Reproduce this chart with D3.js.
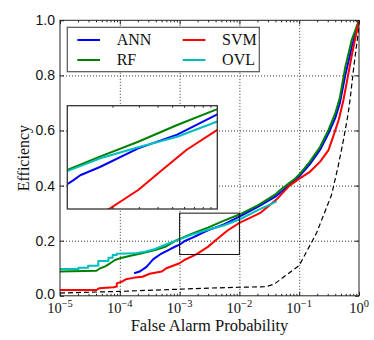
<!DOCTYPE html>
<html lang="en">
<head>
<meta charset="UTF-8">
<title>Efficiency vs False Alarm Probability</title>
<script src="https://d3js.org/d3.v7.min.js"></script>
<style>
  body { margin: 0; background: #fff; }
  svg { font-family: "Liberation Serif", "Times New Roman", serif; }
  .grid line { stroke: #333; stroke-dasharray: 1,2; }
  .grid path, .ax path { display: none; }
  .ax line { stroke: #222; }
</style>
</head>
<body>
<div id="chart"></div>
<script>
// tick labels
const xTicks = [1e-5, 1e-4, 1e-3, 1e-2, 1e-1, 1];
const yTicks = [0, 0.2, 0.4, 0.6, 0.8, 1.0];
const seriesNames = ["ANN", "RF", "SVM", "OVL"];

// [false alarm probability, efficiency]
const ann = [[1.74e-4,0.082],[2.14e-4,0.088],[2.8e-4,0.105],[3.6e-4,0.132],[4.7e-4,0.15],[6.5e-4,0.166],
  [8.3e-4,0.178],[1e-3,0.186],[1.1e-3,0.192],[1.22e-3,0.199],[1.65e-3,0.211],[2.97e-3,0.238],[5.4e-3,0.258],
  [1e-2,0.2875],[0.02,0.322],[0.04,0.36],[0.047,0.372],[0.069,0.403],[0.102,0.435],[0.151,0.478],[0.224,0.53],
  [0.309,0.59],[0.40,0.645],[0.479,0.70],[0.589,0.80],[0.759,0.905],[1,1]];
const rf = [[1e-5,0.088],[4.07e-5,0.091],[4.7e-5,0.1],[5.6e-5,0.106],[6.9e-5,0.118],[8.3e-5,0.130],[1e-4,0.136],
  [1.58e-4,0.146],[2.34e-4,0.154],[3.9e-4,0.166],[5.75e-4,0.178],[8.9e-4,0.202],[1e-3,0.2066],[1.65e-3,0.226],
  [2.97e-3,0.2477],[5.4e-3,0.272],[1e-2,0.295],[0.021,0.33],[0.04,0.368],[0.047,0.382],[0.069,0.41],[0.085,0.425],
  [0.102,0.442],[0.151,0.487],[0.224,0.541],[0.309,0.602],[0.40,0.662],[0.479,0.72],[0.589,0.83],[0.759,0.93],[1,1]];
const svm = [[1e-5,0.021],[4.07e-5,0.021],[4.5e-5,0.027],[7.9e-5,0.031],[8.9e-5,0.034],[8.9e-5,0.045],[1.05e-4,0.05],
  [1.26e-4,0.06],[1.78e-4,0.066],[2.4e-4,0.069],[3.16e-4,0.08],[5e-4,0.088],[6e-4,0.1],[1e-3,0.118],[1.2e-3,0.13],
  [1.93e-3,0.151],[2.97e-3,0.1776],[4.15e-3,0.204],[6.25e-3,0.236],[1e-2,0.265],[0.022,0.30],[0.042,0.35],
  [0.069,0.40],[0.102,0.426],[0.151,0.45],[0.224,0.487],[0.309,0.529],[0.37,0.578],[0.457,0.638],[0.55,0.711],
  [0.759,0.874],[1,1]];
const ovl = [[1e-5,0.097],[2.04e-5,0.097],[2.04e-5,0.102],[2.95e-5,0.102],[2.95e-5,0.109],[4.37e-5,0.109],
  [4.37e-5,0.126],[6.46e-5,0.126],[6.46e-5,0.138],[7.6e-5,0.138],[7.6e-5,0.148],[8.9e-5,0.148],[8.9e-5,0.153],
  [1.78e-4,0.154],[2.63e-4,0.160],[3.9e-4,0.170],[6.5e-4,0.19],[1e-3,0.205],[1.66e-3,0.2236],[2.97e-3,0.2396],
  [5.4e-3,0.255],[1e-2,0.277],[0.02,0.31],[0.042,0.343]];
const chance = [[1e-5,0.01],[1e-4,0.016],[1e-3,0.024],[3.16e-3,0.028],[1e-2,0.031],[0.028,0.033],[0.038,0.042],
  [0.047,0.057],[0.1,0.11],[0.195,0.228],[0.347,0.366],[0.447,0.469],[0.55,0.566],[0.66,0.662],[0.708,0.711],
  [0.826,0.838],[0.977,0.96],[1,1]];

// zoomed region shown in the inset
const zoomX = [1e-3, 1e-2];
const zoomY = [0.15, 0.30];

const colors = { ANN: "#0000ff", RF: "#008000", SVM: "#ff0000", OVL: "#00bfbf" };
const series = [
  { name: "ANN", data: ann },
  { name: "RF", data: rf },
  { name: "SVM", data: svm },
  { name: "OVL", data: ovl }
];

const W = 374, H = 340;
const margin = { top: 20.3, right: 15, bottom: 44.2, left: 60 };
const w = W - margin.left - margin.right;
const h = H - margin.top - margin.bottom;

const svg = d3.select("#chart").append("svg").attr("width", W).attr("height", H);
const g = svg.append("g").attr("transform", `translate(${margin.left},${margin.top})`);

const x = d3.scaleLog().domain([1e-5, 1]).range([0, w]);
const y = d3.scaleLinear().domain([0, 1]).range([h, 0]);

const minor = [];
for (let e = -5; e < 0; e++) for (let m = 2; m <= 9; m++) minor.push(m * Math.pow(10, e));

// grid
g.append("g").attr("class", "grid").attr("transform", `translate(0,${h})`)
  .call(d3.axisBottom(x).tickValues(xTicks.slice(1, -1)).tickSize(-h).tickFormat(""));
g.append("g").attr("class", "grid")
  .call(d3.axisLeft(y).tickValues(yTicks.slice(1, -1)).tickSize(-w).tickFormat(""));

// curves
const line = d3.line().x(d => x(d[0])).y(d => y(d[1]));
g.append("path").datum(chance).attr("d", line).attr("fill", "none")
  .attr("stroke", "#000").attr("stroke-width", 1.2).attr("stroke-dasharray", "5,3");
series.forEach(s => {
  g.append("path").datum(s.data).attr("d", line).attr("fill", "none")
    .attr("stroke", colors[s.name]).attr("stroke-width", 2).attr("stroke-linejoin", "round");
});

// zoom box
g.append("rect").attr("x", x(zoomX[0])).attr("y", y(zoomY[1]))
  .attr("width", x(zoomX[1]) - x(zoomX[0])).attr("height", y(zoomY[0]) - y(zoomY[1]))
  .attr("fill", "none").attr("stroke", "#111").attr("stroke-width", 1);

// axes ticks (inward)
g.append("g").attr("class", "ax").attr("transform", `translate(0,${h})`)
  .call(d3.axisBottom(x).tickValues(xTicks).tickSize(-4).tickFormat(""));
g.append("g").attr("class", "ax").attr("transform", `translate(0,${h})`)
  .call(d3.axisBottom(x).tickValues(minor).tickSize(-2).tickFormat(""));
g.append("g").attr("class", "ax")
  .call(d3.axisTop(x).tickValues(xTicks).tickSize(-4).tickFormat(""));
g.append("g").attr("class", "ax")
  .call(d3.axisTop(x).tickValues(minor).tickSize(-2).tickFormat(""));
const yAx = g.append("g").attr("class", "ax")
  .call(d3.axisLeft(y).tickValues(yTicks).tickSize(-4).tickPadding(5).tickFormat(d3.format(".1f")));
yAx.selectAll("text").attr("font-size", 14).attr("fill", "#111");
yAx.selectAll("text").filter(d => d === 0).attr("dy", "0.2em");
g.append("g").attr("class", "ax").attr("transform", `translate(${w},0)`)
  .call(d3.axisRight(y).tickValues(yTicks).tickSize(-4).tickFormat(""));

// x tick labels with superscripts
const xl = g.selectAll(".xlab").data(xTicks).join("text")
  .attr("class", "xlab").attr("x", d => x(d)).attr("y", h + 17)
  .attr("text-anchor", "middle").attr("font-size", 14.5).attr("fill", "#111");
xl.append("tspan").text("10");
xl.append("tspan").attr("dy", -5.5).attr("font-size", 10.5)
  .text(d => { const e = Math.round(Math.log10(d)); return e === 0 ? "0" : "\u2212" + (-e); });

// frame
g.append("rect").attr("width", w).attr("height", h).attr("fill", "none").attr("stroke", "#222").attr("stroke-width", 1);

// axis titles
g.append("text").attr("x", w / 2).attr("y", h + 35).attr("text-anchor", "middle")
  .attr("font-size", 16.5).attr("fill", "#111").text("False Alarm Probability");
g.append("text").attr("transform", `translate(${23 - margin.left},${h / 2}) rotate(-90)`)
  .attr("text-anchor", "middle").attr("dy", "0.35em").attr("font-size", 16).attr("fill", "#111").text("Efficiency");

// legend
const lg = g.append("g").attr("transform", `translate(${67.3 - margin.left},${27.3 - margin.top})`);
lg.append("rect").attr("width", 192).attr("height", 44.4).attr("fill", "#fff")
  .attr("stroke", "#555").attr("stroke-width", 1.2);
const cols = [["ANN", "RF"], ["SVM", "OVL"]];
cols.forEach((col, ci) => {
  col.forEach((name, ri) => {
    const lx = 10 + ci * 105.4, ly = 12.7 + ri * 20;
    lg.append("line").attr("x1", lx).attr("x2", lx + 22.7).attr("y1", ly).attr("y2", ly)
      .attr("stroke", colors[name]).attr("stroke-width", 2);
    lg.append("text").attr("x", lx + 39.4).attr("y", ly + 5.3).attr("font-size", 16).attr("fill", "#111").text(name);
  });
});

// inset
const ix0 = 67.3 - margin.left, iy0 = 105.7 - margin.top, iw = 150, ih = 103.3;
const inset = g.append("g").attr("transform", `translate(${ix0},${iy0})`);
const xi = d3.scaleLog().domain(zoomX).range([0, iw]);
const yi = d3.scaleLinear().domain(zoomY).range([ih, 0]);
inset.append("rect").attr("width", iw).attr("height", ih).attr("fill", "#fff");
svg.append("clipPath").attr("id", "insetClip").append("rect").attr("width", iw).attr("height", ih);
const lineI = d3.line().x(d => xi(d[0])).y(d => yi(d[1]));
const ic = inset.append("g").attr("clip-path", "url(#insetClip)");
series.forEach(s => {
  ic.append("path").datum(s.data).attr("d", lineI).attr("fill", "none")
    .attr("stroke", colors[s.name]).attr("stroke-width", 2).attr("stroke-linejoin", "round");
});
const iMinor = d3.range(2, 10).map(m => m * 1e-3);
inset.append("g").attr("class", "ax").attr("transform", `translate(0,${ih})`)
  .call(d3.axisBottom(xi).tickValues(iMinor).tickSize(-2).tickFormat(""));
inset.append("g").attr("class", "ax")
  .call(d3.axisTop(xi).tickValues(iMinor).tickSize(-2).tickFormat(""));
inset.append("rect").attr("width", iw).attr("height", ih).attr("fill", "none")
  .attr("stroke", "#333").attr("stroke-width", 1.3);
</script>
</body>
</html>
